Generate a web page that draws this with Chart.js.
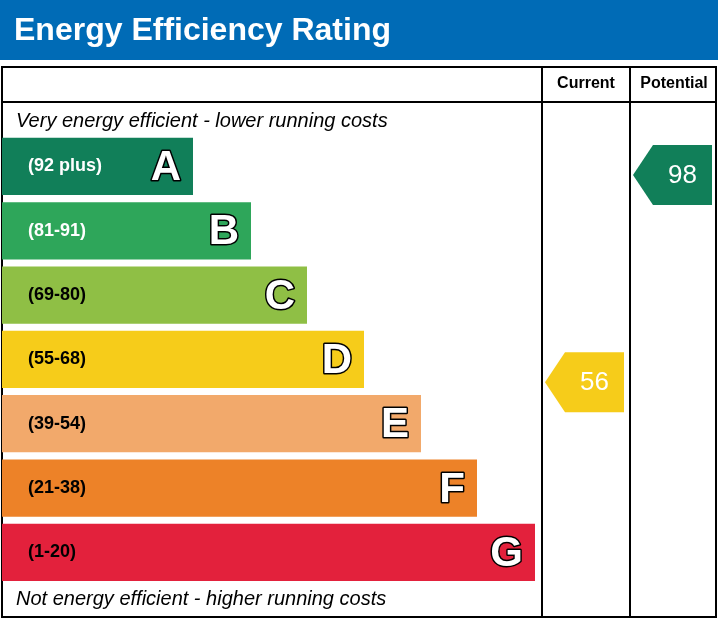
<!DOCTYPE html>
<html><head><meta charset="utf-8">
<script src="https://cdn.jsdelivr.net/npm/chart.js@4"></script>
<style>html,body{margin:0;padding:0;background:#fff;}canvas{display:block;}</style>
</head><body>
<canvas id="c" width="718" height="619"></canvas>
<script>
const bands = ["A","B","C","D","E","F","G"];
const ranges = ["(92 plus)","(81-91)","(69-80)","(55-68)","(39-54)","(21-38)","(1-20)"];
const barLengths = [191,249,305,362,419,475,533];
const bandColors = ["#117f59","#2ea65a","#8fbf45","#f6cc1a","#f2a96b","#ed8228","#e3213c"];
const rangeTextColors = ["#fff","#fff","#000","#000","#000","#000","#000"];
const currentRating = 56, currentColor = "#f6cc1a";
const potentialRating = 98, potentialColor = "#117f59";

const decor = {
  id:'decor',
  beforeDraw(ch){
    const c = ch.ctx;
    c.save();
    c.fillStyle='#fff';c.fillRect(0,0,718,619);
    c.fillStyle='#006bb6';c.fillRect(0,0,718,60);
    c.fillStyle='#fff';c.font='bold 32px "Liberation Sans", Arial';c.textBaseline='middle';
    c.fillText('Energy Efficiency Rating',14,31);
    c.strokeStyle='#000';c.lineWidth=2;
    c.strokeRect(2,67,714,550);
    c.beginPath();
    c.moveTo(2,102);c.lineTo(716,102);
    c.moveTo(542,67);c.lineTo(542,617);
    c.moveTo(630,67);c.lineTo(630,617);
    c.stroke();
    c.fillStyle='#000';c.font='bold 16px "Liberation Sans", Arial';c.textAlign='center';
    c.fillText('Current',586,84);c.fillText('Potential',674,84);
    c.textAlign='left';c.font='italic 20px "Liberation Sans", Arial';
    c.fillText('Very energy efficient - lower running costs',16,121);
    c.fillText('Not energy efficient - higher running costs',16,599);
    c.restore();
  },
  afterDatasetsDraw(ch){
    const c = ch.ctx, xs = ch.scales.x, ys = ch.scales.y, y2 = ch.scales.y2;
    c.save();c.textBaseline='middle';
    bands.forEach((b,i)=>{
      const yc = ys.getPixelForValue(i), xe = xs.getPixelForValue(barLengths[i]);
      c.font='bold 18px "Liberation Sans", Arial';c.fillStyle=rangeTextColors[i];c.textAlign='left';
      c.fillText(ranges[i],28,yc);
      c.font='bold 42px "Liberation Sans", Arial';c.textAlign='right';
      c.lineWidth=3;c.strokeStyle='#000';c.lineJoin='round';
      c.strokeText(b,xe-12,yc+2);c.fillStyle='#fff';c.fillText(b,xe-12,yc+2);
    });
    function arrow(v,col,x0,x1){
      const y = y2.getPixelForValue(v), h=30;
      c.fillStyle=col;c.beginPath();
      c.moveTo(x0,y);c.lineTo(x0+20,y-h);c.lineTo(x1,y-h);c.lineTo(x1,y+h);c.lineTo(x0+20,y+h);c.closePath();c.fill();
      c.fillStyle='#fff';c.font='26px "Liberation Sans", Arial';c.textAlign='center';
      c.fillText(String(v),(x0+20+x1)/2,y+1);
    }
    arrow(currentRating,currentColor,545,624);
    arrow(potentialRating,potentialColor,633,712);
    c.restore();
  }
};

new Chart(document.getElementById('c'),{
  type:'bar',
  data:{labels:bands,datasets:[{data:barLengths,backgroundColor:bandColors,barPercentage:0.89,categoryPercentage:1}]},
  options:{
    indexAxis:'y',responsive:false,animation:false,devicePixelRatio:1,
    layout:{padding:{left:2,right:176,top:134.3,bottom:34.5}},
    plugins:{legend:{display:false},tooltip:{enabled:false}},
    scales:{
      x:{display:false,min:0,max:540},
      y:{display:false},
      y2:{display:false,type:'linear',min:20.04,max:101.19,position:'right'}
    }
  },
  plugins:[decor]
});
</script>
</body></html>
